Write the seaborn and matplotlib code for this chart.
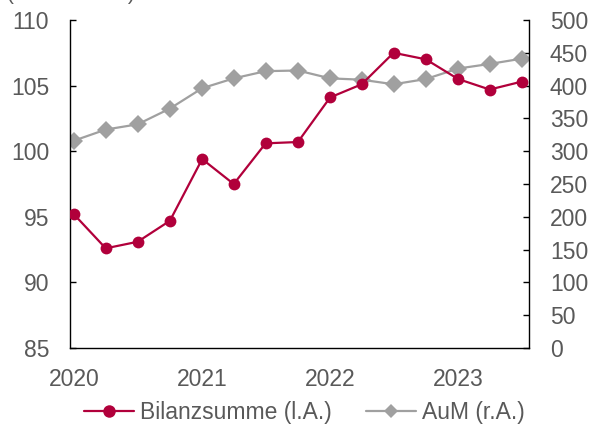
import numpy as np
import pandas as pd
import seaborn as sns
import matplotlib.pyplot as plt
import matplotlib.dates as mdates
from matplotlib.lines import Line2D

quarters = ["2020Q1", "2020Q2", "2020Q3", "2020Q4",
            "2021Q1", "2021Q2", "2021Q3", "2021Q4",
            "2022Q1", "2022Q2", "2022Q3", "2022Q4",
            "2023Q1", "2023Q2", "2023Q3"]
bilanzsumme = [95.2, 92.6, 93.1, 94.7, 99.4, 97.5, 100.6, 100.7,
               104.1, 105.1, 107.5, 107.0, 105.5, 104.7, 105.3]
aum = [316, 333, 341, 365, 396, 411, 422, 423,
       411, 409, 402, 410, 426, 433, 441]
year_ticks = ["2020", "2021", "2022", "2023"]

red = "#B1003B"
grey = "#A0A0A0"
txt = "#595959"

dates = pd.PeriodIndex(quarters, freq="Q").to_timestamp() + pd.Timedelta(days=11)
df = pd.DataFrame({"date": dates, "bil": bilanzsumme, "aum": aum})

sns.set_style("white")
plt.rcParams["font.family"] = ["Liberation Sans", "DejaVu Sans"]

fig = plt.figure(figsize=(5.91, 4.25), dpi=100)
ax = fig.add_axes([0.1184, 0.181, 0.7766, 0.772])
ax2 = ax.twinx()

sns.lineplot(data=df, x="date", y="bil", ax=ax, color=red, marker="o",
             markersize=8.5, markeredgewidth=0, linewidth=1.6, zorder=3)
sns.lineplot(data=df, x="date", y="aum", ax=ax2, color=grey, marker="D",
             markersize=9, markeredgewidth=0, linewidth=1.6)

# red series drawn above the grey one
ax.set_zorder(ax2.get_zorder() + 1)
ax.patch.set_visible(False)

ax.set_ylim(85, 110)
ax.set_yticks(np.arange(85, 111, 5))
ax2.set_ylim(0, 500)
ax2.set_yticks(np.arange(0, 501, 50))

# year labels sit under the first quarter, tick marks at the year boundary
ax.set_xlim(pd.Timestamp("2020-01-01"), pd.Timestamp("2023-08-02"))
ax.set_xticks([d for d in dates if d.month == 1])
ax.xaxis.set_major_formatter(mdates.DateFormatter("%Y"))
ax.set_xticks([pd.Timestamp(y + "-01-01") for y in year_ticks], minor=True)

for a in (ax, ax2):
    a.set_xlabel("")
    a.set_ylabel("")
    a.spines["top"].set_visible(False)
    for s in ("left", "right", "bottom"):
        a.spines[s].set_color("black")
        a.spines[s].set_linewidth(1.0)
    a.tick_params(direction="in", length=4.5, width=1.0, colors="black",
                  labelcolor=txt, labelsize=16.5, pad=15)
ax.spines["right"].set_visible(False)
ax2.spines["left"].set_visible(False)
ax2.spines["bottom"].set_visible(False)
ax.tick_params(axis="x", which="major", length=0, pad=14)
ax.tick_params(axis="x", which="minor", direction="in", length=4.5, width=1.0,
               colors="black")
ax.tick_params(axis="y", pad=15)

fig.text(0.012, 1.0, "(in Mrd. EUR)", fontsize=15, color=txt, va="baseline")

handles = [
    Line2D([], [], color=red, marker="o", markersize=9, markeredgewidth=0, linewidth=1.6),
    Line2D([], [], color=grey, marker="D", markersize=7, markeredgewidth=0, linewidth=1.6),
]
fig.legend(handles, ["Bilanzsumme (l.A.)", "AuM (r.A.)"], loc="center",
           bbox_to_anchor=(0.515, 0.03), ncol=2, frameon=False, fontsize=16.5,
           labelcolor=txt, handlelength=2.2, handletextpad=0.25, columnspacing=1.5)

fig.savefig("out.png", dpi=100)
